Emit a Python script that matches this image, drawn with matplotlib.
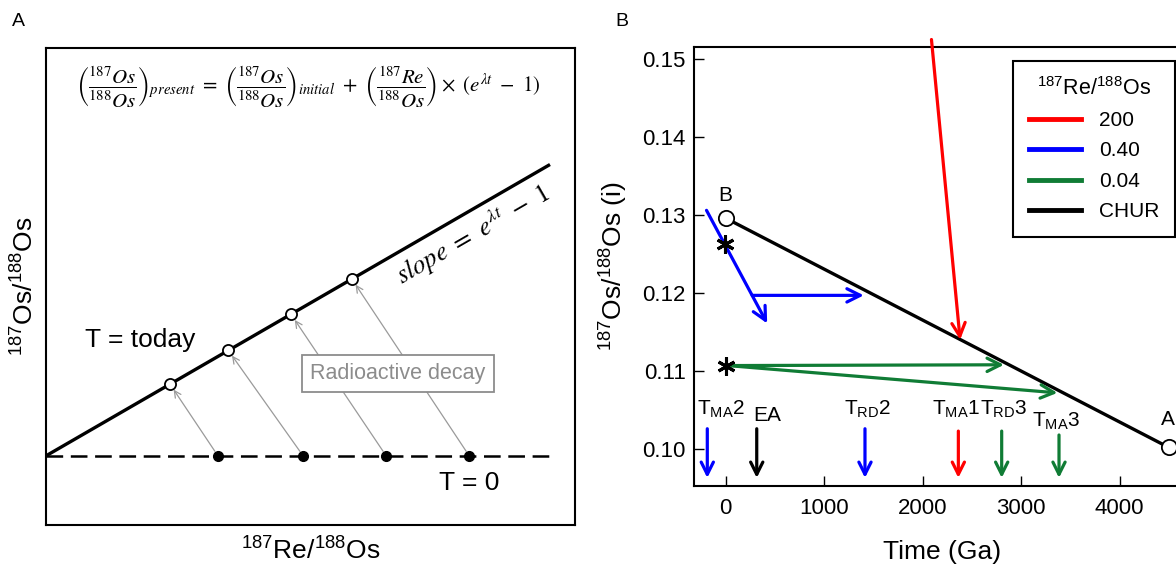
import numpy as np
import matplotlib
matplotlib.use("Agg")
import matplotlib.pyplot as plt
from matplotlib.lines import Line2D
from matplotlib.ticker import FormatStrFormatter

plt.rcParams['font.family'] = 'Liberation Sans'
plt.rcParams['mathtext.fontset'] = 'custom'
plt.rcParams['mathtext.rm'] = 'Liberation Sans'
plt.rcParams['mathtext.it'] = 'Liberation Sans:italic'
plt.rcParams['lines.scale_dashes'] = False

# ---- panel A data (schematic isochron, arbitrary units) ----
re_os_t0 = [3.25, 4.86, 6.43, 8.00]        # filled points, T = 0
re_os_today = [2.34, 3.44, 4.63, 5.78]     # open points, T = today
os_today = [2.96, 3.67, 4.42, 5.16]
os_initial = 1.45
isochron_x = [0, 9.5]
isochron_y = [1.45, 7.54]

# ---- panel B data ----
chur_t = [0, 4500]
chur_os = [0.1296, 0.1002]
red_t = [2090, 2381]
red_os = [0.1525, 0.1140]
blue_diag_t = [-194, 422]
blue_diag_os = [0.1306, 0.1161]
blue_h_t = [270, 1403]
blue_h_os = [0.1197, 0.1197]
green_h_t = [20, 2826]
green_h_os = [0.1107, 0.1108]
green_d_t = [20, 3369]
green_d_os = [0.1107, 0.1072]
star_t = [-6, 0]
star_os = [0.1263, 0.1107]

age_labels = [r'T$_{\mathregular{MA}}$2', 'EA', r'T$_{\mathregular{RD}}$2',
              r'T$_{\mathregular{MA}}$1', r'T$_{\mathregular{RD}}$3', r'T$_{\mathregular{MA}}$3']
age_label_t = [-47, 420, 1445, 2339, 2826, 3354]
age_label_os = [0.1044, 0.1036, 0.1044, 0.1044, 0.1044, 0.1029]
age_arrow_t = [-186, 316, 1415, 2363, 2803, 3385]
age_arrow_top = [0.1026, 0.1026, 0.1026, 0.1023, 0.1023, 0.1018]
age_arrow_tip = 0.0963
age_colors = ['#0000ff', 'black', '#0000ff', '#ff0000', '#107c35', '#107c35']

legend_labels = ['200', '0.40', '0.04', 'CHUR']
legend_colors = ['#ff0000', '#0000ff', '#107c35', 'black']

fig = plt.figure(figsize=(11.76, 5.69), dpi=100)
axA = fig.add_axes([46/1176, 1-525/569, 529/1176, 477/569])
axB = fig.add_axes([694/1176, 1-486/569, 496/1176, 439/569])

# ---------------- panel A ----------------
axA.set_xlim(0, 10)
axA.set_ylim(0, 10)
axA.set_xticks([])
axA.set_yticks([])
for s in axA.spines.values():
    s.set_linewidth(1.5)

axA.plot(isochron_x, isochron_y, color='black', lw=2.4, zorder=3)
axA.plot([0, 9.5], [os_initial, os_initial], color='black', lw=1.8,
         dashes=(12, 5.5), zorder=3)
for x0, x1, y1 in zip(re_os_t0, re_os_today, os_today):
    axA.annotate('', xy=(x1, y1), xytext=(x0, os_initial),
                 arrowprops=dict(arrowstyle='->', color='#9a9a9a', lw=0.9,
                                 shrinkA=4, shrinkB=5, mutation_scale=12))
axA.plot(re_os_t0, [os_initial]*4, 'o', color='black', ms=7, zorder=4)
axA.plot(re_os_today, os_today, 'o', mfc='white', mec='black', mew=1.3,
         ms=8, zorder=4)

axA.text(4.95, 9.18,
         r'$\left(\dfrac{^{187}Os}{^{188}Os}\right)_{present}\ =\ '
         r'\left(\dfrac{^{187}Os}{^{188}Os}\right)_{initial}\ +\ '
         r'\left(\dfrac{^{187}Re}{^{188}Os}\right)\times\ \left(e^{\lambda t}\ -\ 1\right)$',
         math_fontfamily='stix', fontsize=15, ha='center', va='center')
axA.text(8.07, 6.1, r'$slope\ =\ e^{\lambda t}\ -\ 1$', math_fontfamily='stix',
         fontsize=19, rotation=30, rotation_mode='anchor', ha='center', va='center')
axA.text(1.78, 3.88, 'T = today', fontsize=19, ha='center', va='center')
axA.text(8.0, 0.88, 'T = 0', fontsize=19, ha='center', va='center')
axA.text(6.65, 3.18, 'Radioactive decay', fontsize=15.5, color='#8c8c8c',
         ha='center', va='center',
         bbox=dict(boxstyle='square,pad=0.38', fc='white', ec='#8c8c8c', lw=1.3))
axA.set_xlabel(r'$^{187}$Re/$^{188}$Os', fontsize=19, labelpad=9)
axA.set_ylabel(r'$^{187}$Os/$^{188}$Os', fontsize=19, labelpad=5)

# ---------------- panel B ----------------
axB.set_xlim(-321, 4715)
axB.set_ylim(0.09526, 0.15154)
axB.set_xticks([0, 1000, 2000, 3000, 4000])
axB.set_yticks([0.10, 0.11, 0.12, 0.13, 0.14, 0.15])
axB.yaxis.set_major_formatter(FormatStrFormatter('%.2f'))
axB.tick_params(direction='in', labelsize=16, width=1, length=7)
axB.tick_params(axis='x', pad=9)
axB.tick_params(axis='y', pad=6)
for s in axB.spines.values():
    s.set_linewidth(1.5)

axB.plot(chur_t, chur_os, color='black', lw=2.4, zorder=3)
arrow_kw = dict(arrowstyle='->', lw=2.3, mutation_scale=24, shrinkA=0, shrinkB=0)
for tt, oo, c in [(red_t, red_os, '#ff0000'), (blue_diag_t, blue_diag_os, '#0000ff'),
                  (blue_h_t, blue_h_os, '#0000ff'), (green_h_t, green_h_os, '#107c35'),
                  (green_d_t, green_d_os, '#107c35')]:
    axB.annotate('', xy=(tt[1], oo[1]), xytext=(tt[0], oo[0]),
                 arrowprops=dict(color=c, **arrow_kw), annotation_clip=False)
axB.plot(chur_t, chur_os, 'o', mfc='white', mec='black', mew=1.3, ms=11, zorder=5)
axB.text(chur_t[0], 0.1313, 'B', fontsize=15, ha='center', va='bottom')
axB.text(chur_t[1] - 13, 0.1026, 'A', fontsize=15, ha='center', va='bottom')
axB.plot(star_t, star_os, marker=(6, 2, 0), ls='none', color='black', ms=13, mew=2.2, zorder=5)

for lab, lt, lo, at, top, c in zip(age_labels, age_label_t, age_label_os,
                                   age_arrow_t, age_arrow_top, age_colors):
    axB.text(lt, lo, lab, fontsize=15, ha='center', va='baseline')
    axB.annotate('', xy=(at, age_arrow_tip), xytext=(at, top),
                 arrowprops=dict(color=c, arrowstyle='->', lw=2.3,
                                 mutation_scale=22, shrinkA=0, shrinkB=0))

handles = [Line2D([], [], color=c, lw=3.5) for c in legend_colors]
leg = axB.legend(handles, legend_labels, title=r'$^{187}$Re/$^{188}$Os',
                 loc='upper left', bbox_to_anchor=(0.643, 0.968), borderaxespad=0,
                 fontsize=15, title_fontsize=15.5, fancybox=False, edgecolor='black',
                 framealpha=1, handlelength=2.5, handletextpad=0.9,
                 labelspacing=0.55, borderpad=0.75)
leg.get_frame().set_linewidth(1.5)

axB.set_xlabel('Time (Ga)', fontsize=19, labelpad=15)
axB.set_ylabel(r'$^{187}$Os/$^{188}$Os (i)', fontsize=19, labelpad=9)

fig.text(18/1176, 1-22/569, 'A', fontsize=14, ha='center', va='center')
fig.text(622/1176, 1-22/569, 'B', fontsize=14, ha='center', va='center')

fig.savefig('out.png', dpi=100)
